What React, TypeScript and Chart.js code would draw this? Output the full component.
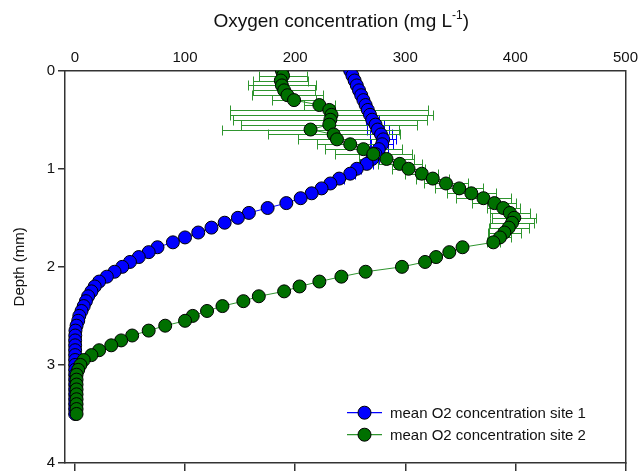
import React, { useEffect, useRef } from 'react';
import { Chart, registerables } from 'chart.js';

Chart.register(...registerables);

// Depth below the surface (mm)
const depthMm = [
  0.0, 0.05, 0.1, 0.15, 0.2, 0.25, 0.3, 0.35, 0.4, 0.45,
  0.5, 0.55, 0.6, 0.65, 0.7, 0.75, 0.8, 0.85, 0.9, 0.95,
  1.0, 1.05, 1.1, 1.15, 1.2, 1.25, 1.3, 1.35, 1.4, 1.45,
  1.5, 1.55, 1.6, 1.65, 1.7, 1.75, 1.8, 1.85, 1.9, 1.95,
  2.0, 2.05, 2.1, 2.15, 2.2, 2.25, 2.3, 2.35, 2.4, 2.45,
  2.5, 2.55, 2.6, 2.65, 2.7, 2.75, 2.8, 2.85, 2.9, 2.95,
  3.0, 3.05, 3.1, 3.15, 3.2, 3.25, 3.3, 3.35, 3.4, 3.45, 3.5,
];

// Mean O2 concentration, site 1 (mg L-1)
const site1 = [
  250, 252, 254, 256, 258, 260, 262, 264, 266, 268,
  270, 273, 275, 278, 280, 279, 276, 273, 270, 265,
  256, 250, 240, 232, 224, 215, 205, 192, 175, 158,
  148, 136, 124, 112, 100, 89, 75, 67, 58, 50,
  43, 36, 29, 22, 18, 15, 12, 10, 8, 6,
  4, 3, 1.5, 0.5, 0.3, 0.2, 0.2, 0.2, 0.2, 0.2,
  0.2, 0.2, 0.2, 0.2, 0.2, 0.2, 0.2, 0.2, 0.2, 0.2, 0.2,
];

// Standard error, site 1
const site1Err = [
  0, 0, 0, 0, 0, 0, 0, 0, 0, 0,
  6, 8, 10, 10, 12, 10, 8, 8, 6, 6,
  4, 4, 4, 0, 0, 0, 0, 0, 0, 0,
  0, 0, 0, 0, 0, 0, 0, 0, 0, 0,
  0, 0, 0, 0, 0, 0, 0, 0, 0, 0,
  0, 0, 0, 0, 0, 0, 0, 0, 0, 0,
  0, 0, 0, 0, 0, 0, 0, 0, 0, 0, 0,
];

// Mean O2 concentration, site 2 (mg L-1)
const site2 = [
  188, 189, 187, 188, 190, 193, 199, 222, 231, 233,
  232, 231, 214, 235, 238, 250, 262, 271, 283, 295,
  303, 315, 325, 337, 349, 360, 371, 381, 389, 395,
  399, 397, 394, 390, 386, 380, 352, 340, 328, 318,
  297, 264, 242, 222, 204, 190, 167, 153, 134, 120,
  107, 100, 82, 67, 52, 42, 33, 22, 15, 8,
  5, 3, 1.5, 1.5, 1.5, 1.5, 1.5, 1.5, 1.5, 1.5, 1.5,
];

// Standard error, site 2
const site2Err = [
  0, 22, 25, 31, 28, 32, 20, 14, 90, 92,
  88, 80, 80, 60, 35, 30, 35, 35, 25, 20,
  15, 15, 15, 20, 22, 22, 25, 20, 15, 18,
  20, 20, 18, 15, 10, 6, 0, 0, 0, 0,
  0, 0, 0, 0, 0, 0, 0, 0, 0, 0,
  0, 0, 0, 0, 0, 0, 0, 0, 0, 0,
  0, 0, 0, 0, 0, 0, 0, 0, 0, 0, 0,
];

const xTickValues = [0, 100, 200, 300, 400, 500];
const yTickValues = [0, 1, 2, 3, 4];

const seriesNames = ['mean O2 concentration site 1', 'mean O2 concentration site 2'];

const FONT = '"Liberation Sans", Arial, sans-serif';
const AXIS_COLOR = '#333333';
const BLUE = '#0000ff';
const GREEN_FILL = '#007000';
const GREEN_LINE = '#2f952f';

const errorBarPlugin = {
  id: 'errorBars',
  beforeDatasetsDraw(chart: any) {
    const { ctx } = chart;
    const xs = chart.scales.x;
    const ys = chart.scales.y;
    chart.data.datasets.forEach((ds: any) => {
      const errs: number[] | undefined = ds.errors;
      if (!errs) return;
      ctx.save();
      ctx.strokeStyle = ds.errorColor;
      ctx.lineWidth = 1;
      ds.data.forEach((p: any, i: number) => {
        const e = errs[i];
        if (!e) return;
        const y = Math.round(ys.getPixelForValue(p.y)) + 0.5;
        const x1 = Math.round(xs.getPixelForValue(p.x - e)) + 0.5;
        const x2 = Math.round(xs.getPixelForValue(p.x + e)) + 0.5;
        ctx.beginPath();
        ctx.moveTo(x1, y);
        ctx.lineTo(x2, y);
        ctx.moveTo(x1, y - 5);
        ctx.lineTo(x1, y + 5);
        ctx.moveTo(x2, y - 5);
        ctx.lineTo(x2, y + 5);
        ctx.stroke();
      });
      ctx.restore();
    });
  },
};

const annotationPlugin = {
  id: 'titlesAndLegend',
  afterDraw(chart: any) {
    const { ctx, chartArea } = chart;
    ctx.save();

    // Top axis title with superscript unit
    const mainSize = 19;
    const supSize = 12;
    const part1 = 'Oxygen concentration (mg L';
    const sup = '-1';
    const part3 = ')';
    ctx.font = `${mainSize}px ${FONT}`;
    const w1 = ctx.measureText(part1).width;
    const w3 = ctx.measureText(part3).width;
    ctx.font = `${supSize}px ${FONT}`;
    const w2 = ctx.measureText(sup).width;
    const total = w1 + w2 + w3;
    let tx = (chartArea.left + chartArea.right) / 2 - 4 - total / 2;
    const baseY = 27;
    ctx.fillStyle = '#111111';
    ctx.textBaseline = 'alphabetic';
    ctx.textAlign = 'left';
    ctx.font = `${mainSize}px ${FONT}`;
    ctx.fillText(part1, tx, baseY);
    tx += w1;
    ctx.font = `${supSize}px ${FONT}`;
    ctx.fillText(sup, tx, baseY - 8);
    tx += w2;
    ctx.font = `${mainSize}px ${FONT}`;
    ctx.fillText(part3, tx, baseY);

    // Left axis title
    ctx.save();
    ctx.translate(20, (chartArea.top + chartArea.bottom) / 2);
    ctx.rotate(-Math.PI / 2);
    ctx.textAlign = 'center';
    ctx.textBaseline = 'middle';
    ctx.font = `15px ${FONT}`;
    ctx.fillText('Depth (mm)', 0, 0);
    ctx.restore();

    // Legend in the lower right of the plot
    const lx = chartArea.left + 282;
    const ly = chartArea.top + 342;
    const rowGap = 22;
    chart.data.datasets.forEach((ds: any, i: number) => {
      const y = ly + (ds.legendRow ?? i) * rowGap;
      ctx.strokeStyle = ds.borderColor;
      ctx.lineWidth = 1.2;
      ctx.beginPath();
      ctx.moveTo(lx, y);
      ctx.lineTo(lx + 35, y);
      ctx.stroke();
      ctx.beginPath();
      ctx.arc(lx + 17.5, y, 6.5, 0, Math.PI * 2);
      ctx.fillStyle = ds.pointBackgroundColor;
      ctx.fill();
      ctx.strokeStyle = '#000000';
      ctx.lineWidth = 1;
      ctx.stroke();
      ctx.fillStyle = '#111111';
      ctx.font = `15px ${FONT}`;
      ctx.textAlign = 'left';
      ctx.textBaseline = 'middle';
      ctx.fillText(seriesNames[ds.legendRow ?? i], lx + 43, y + 1);
    });

    ctx.restore();
  },
};

export default function App() {
  const canvasRef = useRef<HTMLCanvasElement | null>(null);

  useEffect(() => {
    const canvas = canvasRef.current;
    if (!canvas) return;

    const pts1 = depthMm.map((d, i) => ({ x: site1[i], y: d }));
    const pts2 = depthMm.map((d, i) => ({ x: site2[i], y: d }));

    const chart = new Chart(canvas, {
      type: 'scatter',
      data: {
        datasets: [
          {
            label: seriesNames[0],
            data: pts1,
            showLine: true,
            borderColor: BLUE,
            borderWidth: 1,
            pointBackgroundColor: BLUE,
            pointBorderColor: '#000000',
            pointBorderWidth: 1,
            pointRadius: 6.5,
            order: 2,
            errors: site1Err,
            errorColor: BLUE,
            legendRow: 0,
          } as any,
          {
            label: seriesNames[1],
            data: pts2,
            showLine: true,
            borderColor: GREEN_LINE,
            borderWidth: 1,
            pointBackgroundColor: GREEN_FILL,
            pointBorderColor: '#000000',
            pointBorderWidth: 1,
            pointRadius: 6.5,
            order: 1,
            errors: site2Err,
            errorColor: GREEN_LINE,
            legendRow: 1,
          } as any,
        ],
      },
      options: {
        responsive: false,
        animation: false,
        layout: { padding: 0 },
        plugins: {
          legend: { display: false },
          tooltip: { enabled: false },
        },
        scales: {
          x: {
            type: 'linear',
            position: 'top',
            min: -9,
            max: 500,
            afterBuildTicks: (scale: any) => {
              scale.ticks = xTickValues.map((v) => ({ value: v }));
            },
            afterFit: (scale: any) => {
              scale.height = 70.7;
            },
            grid: { drawOnChartArea: false, drawTicks: false },
            border: { display: true, color: AXIS_COLOR, width: 1.5 },
            ticks: {
              color: '#111111',
              font: { family: FONT, size: 15 },
              padding: 4,
              maxRotation: 0,
            },
          },
          xb: {
            type: 'linear',
            position: 'bottom',
            min: -9,
            max: 500,
            afterBuildTicks: (scale: any) => {
              scale.ticks = xTickValues.map((v) => ({ value: v }));
            },
            afterFit: (scale: any) => {
              scale.height = 8.5;
            },
            grid: { drawOnChartArea: false, drawTicks: true, tickLength: 8, color: AXIS_COLOR, lineWidth: 1.5 },
            border: { display: true, color: AXIS_COLOR, width: 1.5 },
            ticks: { display: false },
          },
          y: {
            type: 'linear',
            position: 'left',
            reverse: true,
            min: 0,
            max: 4,
            afterBuildTicks: (scale: any) => {
              scale.ticks = yTickValues.map((v) => ({ value: v }));
            },
            afterFit: (scale: any) => {
              scale.width = 65;
            },
            grid: { drawOnChartArea: false, drawTicks: true, tickLength: 7, color: AXIS_COLOR, lineWidth: 1.5 },
            border: { display: true, color: AXIS_COLOR, width: 1.5 },
            ticks: {
              color: '#111111',
              font: { family: FONT, size: 15 },
              padding: 3,
            },
          },
          yr: {
            type: 'linear',
            position: 'right',
            reverse: true,
            min: 0,
            max: 4,
            afterFit: (scale: any) => {
              scale.width = 11.3;
            },
            grid: { drawOnChartArea: false, drawTicks: false },
            border: { display: true, color: AXIS_COLOR, width: 1.5 },
            ticks: { display: false },
          },
        },
      } as any,
      plugins: [errorBarPlugin, annotationPlugin],
    });

    return () => chart.destroy();
  }, []);

  return (
    <div style={{ position: 'fixed', left: 0, top: 0, width: 642, height: 475, background: '#ffffff' }}>
      <canvas ref={canvasRef} width={642} height={475} />
    </div>
  );
}
